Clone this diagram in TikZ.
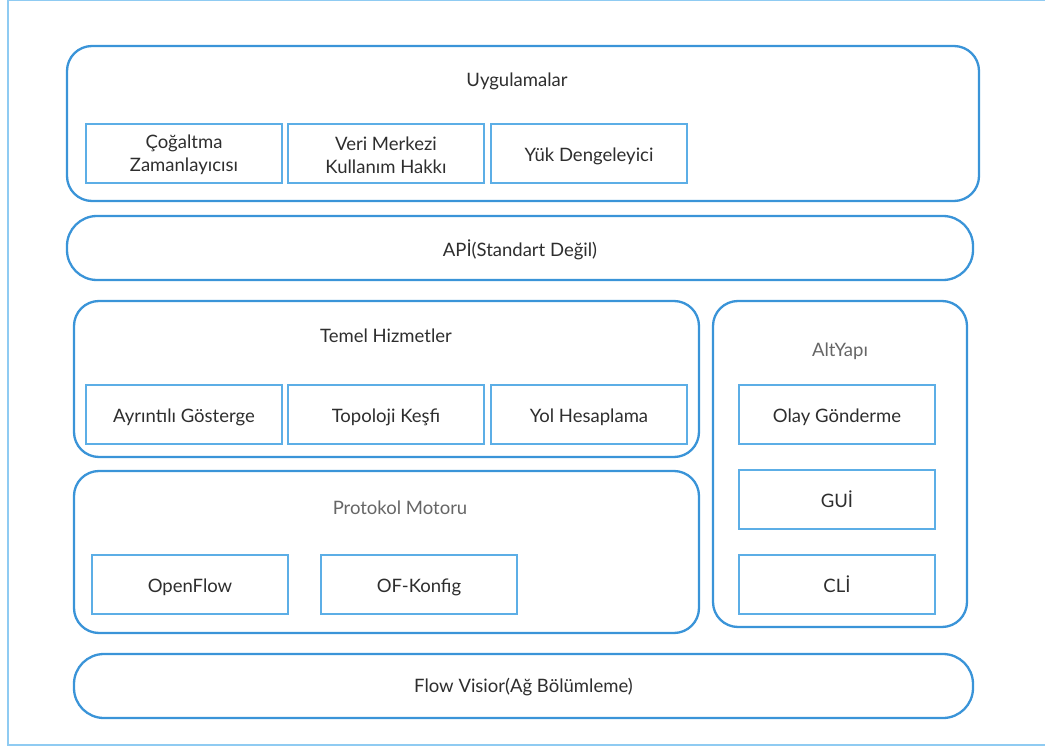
\documentclass[tikz,border=0pt]{standalone}
\usepackage{fontspec}
\setmainfont{Lato}
\definecolor{frameblue}{HTML}{8FCBF2}
\definecolor{layerblue}{HTML}{3A94D8}
\definecolor{boxblue}{HTML}{5CAEE6}
\definecolor{ink}{HTML}{2E2E2E}
\definecolor{mute}{HTML}{666666}
\begin{document}
\begin{tikzpicture}[x=1pt,y=-1pt,
  txt/.style={font=\fontsize{18.5pt}{23pt}\selectfont, text=ink, align=center, inner sep=0pt},
  layer/.style={draw=layerblue, line width=2.3pt, rounded corners=25pt, inner sep=0pt},
  pill/.style={layer, rounded corners=30pt, label={[txt, yshift=-1.5pt]center:#1}},
  boxframe/.style={draw=boxblue, line width=1.3pt, minimum width=196pt, minimum height=59pt, inner sep=0pt},
  module/.style={boxframe, label={[txt, yshift=-2.5pt]center:{#1}}},
  two line module/.style={boxframe, label={[txt, yshift=-1.5pt]center:{#1}}},
  dotted module/.style={boxframe, label={[txt, yshift=0pt]center:{#1}}},
  title/.style={txt},
  subtitle/.style={txt, text=mute}]
\useasboundingbox (0,0) rectangle (1045,749);
\draw[frameblue, line width=1.5pt] (8,0.75) rectangle (1050,745);

% layers
\node[layer, minimum width=912pt, minimum height=155pt] (apps)  at (523,123.5) {};
\node[pill={APİ(Standart Değil)}, minimum width=906pt, minimum height=64pt] (api) at (520,248) {};
\node[layer, minimum width=625pt, minimum height=156pt] (core)  at (386.5,379) {};
\node[layer, minimum width=254pt, minimum height=326pt] (infra) at (840,464) {};
\node[layer, minimum width=625pt, minimum height=162pt] (proto) at (386.5,552) {};
\node[pill={Flow Visior(Ağ Bölümleme)}, minimum width=899pt, minimum height=64pt] (flow) at (523.5,686) {};

% layer titles
\node[title]    (appsT)  at (517,81.5)  {Uygulamalar};
\node[title]    (coreT)  at (386,336)   {Temel Hizmetler};
\node[subtitle] (infraT) at (840,351)   {AltYapı};
\node[subtitle] (protoT) at (400,508)   {Protokol Motoru};

% applications
\node[two line module={Çoğaltma\\Zamanlayıcısı}]      (rep) at (184,153.5) {};
\node[two line module={Veri Merkezi\\Kullanım Hakkı}] (dc)  at (386,153.5) {};
\node[module={Yük Dengeleyici}]                       (lb)  at (589,153.5) {};

% core services
\node[module={Ayrıntılı Gösterge}] (stat) at (184,414.5) {};
\node[module={Topoloji Keşfi}]     (topo) at (386,414.5) {};
\node[module={Yol Hesaplama}]      (path) at (589,414.5) {};

% infrastructure
\node[module={Olay Gönderme}]    (ev)  at (837,414.5) {};
\node[dotted module={GUİ}]       (gui) at (837,499.5) {};
\node[dotted module={CLİ}]       (cli) at (837,584.5) {};

% protocol engine
\node[module={OpenFlow}]  (of)  at (190,584.5) {};
\node[module={OF-Konfig}] (ofc) at (419,584.5) {};
\end{tikzpicture}
\end{document}
